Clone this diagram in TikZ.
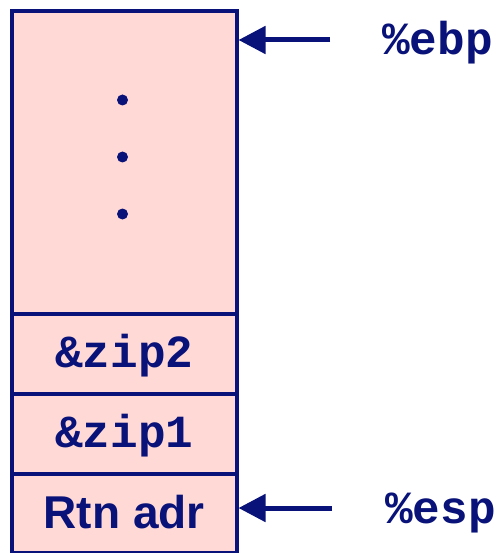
\documentclass[tikz,border=0pt]{standalone}
\usepackage{fontspec}
\setmainfont{Liberation Sans}
\newfontfamily\monob{Liberation Mono}[BoldFont={Liberation Mono Bold}]
\usetikzlibrary{arrows.meta}
\definecolor{navy}{RGB}{8,18,120}
\definecolor{pinkfill}{RGB}{255,217,214}
\begin{document}
\begin{tikzpicture}[x=1pt,y=1pt,
  cell/.style={draw=navy,fill=pinkfill,line width=4pt,minimum width=224.5pt,inner sep=0pt,
    anchor=north west,text=navy,text depth=0pt},
  monolbl/.style={text=navy,font=\monob\bfseries\fontsize{46}{46}\selectfont},
  sanslbl/.style={text=navy,font=\bfseries\fontsize{46}{46}\selectfont},
  arr/.style={navy,line width=5pt,-{Triangle[length=27pt,width=27pt]}},
  dotmark/.style={circle,fill=navy,inner sep=0pt,minimum size=11pt}]
\useasboundingbox (0,0) rectangle (499,-553);
\node[cell,minimum height=303pt] (top) at (10,-9) {};
\node[cell,minimum height=79.5pt,monolbl,text height=27pt] (zip2) at (10,-312) {\&zip2};
\node[cell,minimum height=80pt,monolbl,text height=27pt] (zip1) at (10,-391.5) {\&zip1};
\node[cell,minimum height=79.5pt,sanslbl,text height=31pt] (rtn) at (10,-471.5) {Rtn adr};
\node[dotmark] (d1) at (122.5,-100) {};
\node[dotmark] (d2) at (122.5,-157) {};
\node[dotmark] (d3) at (122.5,-214) {};
\node[monolbl,anchor=base west,inner sep=0pt] (ebp) at (382,-55) {\%ebp};
\node[monolbl,anchor=base west,inner sep=0pt] (esp) at (385,-523) {\%esp};
\coordinate (ebpsrc) at (330,-40);
\coordinate (espsrc) at (332,-508);
\draw[arr] (ebpsrc) -- (ebpsrc -| top.east);
\draw[arr] (espsrc) -- (espsrc -| rtn.east);
\end{tikzpicture}
\end{document}
